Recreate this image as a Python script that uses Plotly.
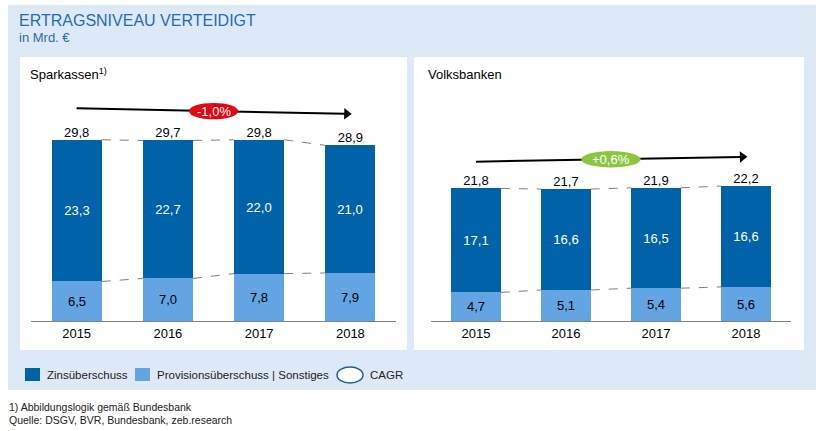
import math
import plotly.graph_objects as go

W, H = 825, 431

years = ["2015", "2016", "2017", "2018"]
spk_zins = [23.3, 22.7, 22.0, 21.0]
spk_prov = [6.5, 7.0, 7.8, 7.9]
spk_total = [29.8, 29.7, 29.8, 28.9]
vb_zins = [17.1, 16.6, 16.5, 16.6]
vb_prov = [4.7, 5.1, 5.4, 5.6]
vb_total = [21.8, 21.7, 21.9, 22.2]
cagr_labels = ["-1,0%", "+0,6%"]
panel_titles = ["Sparkassen<sup>1)</sup>", "Volksbanken"]

DARK = "#0062a8"
LIGHT = "#63a5e2"
BG = "#dee9f7"
TITLE_BLUE = "#1f6db5"
FONT = "Liberation Sans, Arial, sans-serif"

def px(x):
    return x / W

def py(y):
    return 1 - y / H

def fmt(v):
    return f"{v:.1f}".replace(".", ",")

scale = 6.08  # px per unit
base_px, top_px = 321, 81
ymax = (base_px - top_px) / scale

xpos = list(range(len(years)))

fig = go.Figure()
BW = 0.55

panels = [
    dict(zins=spk_zins, prov=spk_prov, total=spk_total, xa="x", ya="y",
         dom=(31, 396), arrow=(35.0, 34.05), cagr=cagr_labels[0],
         ccol="#e30613", ew=0.27),
    dict(zins=vb_zins, prov=vb_prov, total=vb_total, xa="x2", ya="y2",
         dom=(431, 791), arrow=(26.2, 27.0), cagr=cagr_labels[1],
         ccol="#8cc63f", ew=0.33),
]

shapes = []
annotations = []

# background areas
shapes.append(dict(type="rect", xref="paper", yref="paper", x0=px(8), x1=px(816),
                   y0=py(390), y1=py(5), fillcolor=BG, line=dict(width=0), layer="below"))
shapes.append(dict(type="rect", xref="paper", yref="paper", x0=px(20), x1=px(407),
                   y0=py(350), y1=py(57), fillcolor="white", line=dict(width=0), layer="below"))
shapes.append(dict(type="rect", xref="paper", yref="paper", x0=px(414), x1=px(804),
                   y0=py(350), y1=py(57), fillcolor="white", line=dict(width=0), layer="below"))

for i, p in enumerate(panels):
    xa, ya = p["xa"], p["ya"]
    fig.add_trace(go.Bar(x=xpos, y=p["prov"], marker=dict(color=LIGHT, line=dict(width=0)),
                         width=BW, text=[fmt(v) for v in p["prov"]], textposition="inside",
                         insidetextanchor="middle", textangle=0,
                         textfont=dict(color="black", size=13, family=FONT),
                         xaxis=xa, yaxis=ya, showlegend=False, hoverinfo="skip"))
    fig.add_trace(go.Bar(x=xpos, y=p["zins"], marker=dict(color=DARK, line=dict(width=0)),
                         width=BW, text=[fmt(v) for v in p["zins"]], textposition="inside",
                         insidetextanchor="middle", textangle=0,
                         textfont=dict(color="white", size=13, family=FONT),
                         xaxis=xa, yaxis=ya, showlegend=False, hoverinfo="skip"))
    # totals
    fig.add_trace(go.Scatter(x=xpos, y=p["total"], mode="text", text=[fmt(v) for v in p["total"]],
                             textposition="top center", textfont=dict(color="black", size=13, family=FONT),
                             xaxis=xa, yaxis=ya, showlegend=False, hoverinfo="skip"))
    # dashed connectors
    for series in (p["total"], p["prov"]):
        xs, ys = [], []
        for k in range(len(series) - 1):
            xs += [k + BW / 2, k + 1 - BW / 2, None]
            ys += [series[k], series[k + 1], None]
        fig.add_trace(go.Scatter(x=xs, y=ys, mode="lines",
                                 line=dict(color="#7f7f7f", width=1, dash="dash"),
                                 xaxis=xa, yaxis=ya, showlegend=False, hoverinfo="skip"))
    # CAGR arrow (line + arrowhead marker)
    y0, y1 = p["arrow"]
    x_end = xpos[-1]
    xscale = (p["dom"][1] - p["dom"][0]) / 4.0
    ang = math.degrees(math.atan2((y0 - y1) * scale, x_end * xscale))
    fig.add_trace(go.Scatter(x=[xpos[0], x_end - 0.06], y=[y0, y0 + (y1 - y0) * (x_end - 0.06) / x_end],
                             mode="lines", line=dict(color="black", width=2), xaxis=xa, yaxis=ya,
                             showlegend=False, hoverinfo="skip"))
    fig.add_trace(go.Scatter(x=[x_end - 0.04], y=[y0 + (y1 - y0) * (x_end - 0.04) / x_end],
                             mode="markers",
                             marker=dict(symbol="triangle-right", size=10, color="black",
                                         angle=ang, line=dict(width=0)),
                             xaxis=xa, yaxis=ya, showlegend=False, hoverinfo="skip"))
    ym = (y0 + y1) / 2
    shapes.append(dict(type="circle", xref=xa, yref=ya, x0=1.5 - p["ew"], x1=1.5 + p["ew"],
                       y0=ym - 1.35, y1=ym + 1.35, fillcolor=p["ccol"], line=dict(width=0),
                       layer="above"))
    annotations.append(dict(x=1.5, y=ym, xref=xa, yref=ya, text=p["cagr"], showarrow=False,
                            font=dict(color="white", size=13, family=FONT)))

# Titles
annotations.append(dict(x=px(17), y=py(20), xref="paper", yref="paper", xanchor="left",
                        yanchor="middle", text="ERTRAGSNIVEAU VERTEIDIGT", showarrow=False,
                        font=dict(size=16, color=TITLE_BLUE, family=FONT)))
annotations.append(dict(x=px(17), y=py(38), xref="paper", yref="paper", xanchor="left",
                        yanchor="middle", text="in Mrd. €", showarrow=False,
                        font=dict(size=13, color=TITLE_BLUE, family=FONT)))
annotations.append(dict(x=px(28), y=py(74), xref="paper", yref="paper", xanchor="left",
                        yanchor="middle", text=panel_titles[0], showarrow=False,
                        font=dict(size=13, color="black", family=FONT)))
annotations.append(dict(x=px(426), y=py(74), xref="paper", yref="paper", xanchor="left",
                        yanchor="middle", text=panel_titles[1], showarrow=False,
                        font=dict(size=13, color="black", family=FONT)))

# Legend (manual)
shapes.append(dict(type="rect", xref="paper", yref="paper", x0=px(25), x1=px(40),
                   y0=py(381), y1=py(368), fillcolor=DARK, line=dict(width=0)))
shapes.append(dict(type="rect", xref="paper", yref="paper", x0=px(135), x1=px(150),
                   y0=py(381), y1=py(368), fillcolor=LIGHT, line=dict(width=0)))
shapes.append(dict(type="circle", xref="paper", yref="paper", x0=px(337), x1=px(363),
                   y0=py(383), y1=py(367), fillcolor="white", line=dict(width=1.5, color="#1f5f9f")))
for xx, t in [(45, "Zinsüberschuss"), (155, "Provisionsüberschuss | Sonstiges"), (368, "CAGR")]:
    annotations.append(dict(x=px(xx), y=py(375), xref="paper", yref="paper", xanchor="left",
                            yanchor="middle", text=t, showarrow=False,
                            font=dict(size=11.5, color="#222", family=FONT)))

# Footnotes
annotations.append(dict(x=px(7), y=py(407), xref="paper", yref="paper", xanchor="left",
                        yanchor="middle", text="1) Abbildungslogik gemäß Bundesbank", showarrow=False,
                        font=dict(size=10.5, color="#222", family=FONT)))
annotations.append(dict(x=px(7), y=py(420), xref="paper", yref="paper", xanchor="left",
                        yanchor="middle", text="Quelle: DSGV, BVR, Bundesbank, zeb.research",
                        showarrow=False, font=dict(size=10.5, color="#222", family=FONT)))

ydom = [py(base_px), py(top_px)]
xcommon = dict(type="linear", range=[-0.5, 3.5], showgrid=False, zeroline=False,
               showline=True, linecolor="#808080", linewidth=1, ticks="",
               tickmode="array", tickvals=xpos, ticktext=years,
               tickfont=dict(size=13, color="black", family=FONT), fixedrange=True)
ycommon = dict(range=[0, ymax], domain=ydom, visible=False, fixedrange=True)

fig.update_layout(
    width=W, height=H, margin=dict(l=0, r=0, t=0, b=0),
    paper_bgcolor="white", plot_bgcolor="rgba(0,0,0,0)",
    barmode="stack", bargap=0, separators=",.",
    font=dict(family=FONT),
    xaxis=dict(domain=[px(panels[0]["dom"][0]), px(panels[0]["dom"][1])], anchor="y", **xcommon),
    yaxis=dict(anchor="x", **ycommon),
    xaxis2=dict(domain=[px(panels[1]["dom"][0]), px(panels[1]["dom"][1])], anchor="y2", **xcommon),
    yaxis2=dict(anchor="x2", **ycommon),
    shapes=shapes, annotations=annotations, showlegend=False,
)

fig.write_html("out.html")
